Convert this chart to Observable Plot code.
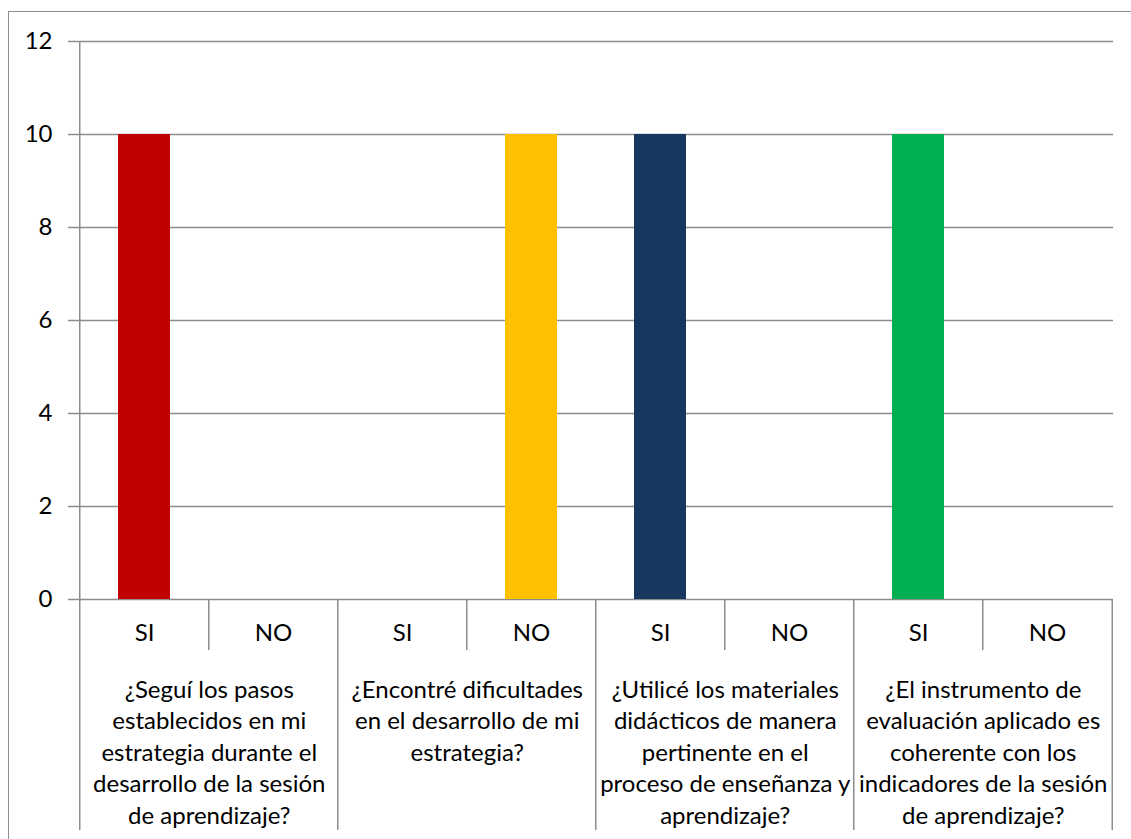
<!DOCTYPE html>
<html>
<head>
<meta charset="utf-8">
<script src="https://cdn.jsdelivr.net/npm/d3@7"></script>
<script src="https://cdn.jsdelivr.net/npm/@observablehq/plot@0.6"></script>
<style>
  html, body { margin: 0; padding: 0; background: #fff; overflow: hidden; }
  #wrap { position: relative; width: 1131px; height: 839px; overflow: hidden; }
  #border { position: absolute; left: 8px; top: 11px; width: 1140px; height: 850px; border: 1px solid #8c8c8c; box-sizing: border-box; pointer-events: none; }
  #chart { position: absolute; left: 0; top: 0; }
</style>
</head>
<body>
<div id="wrap"><div id="chart"></div><div id="border"></div></div>
<script>
// ---- data ----
const questions = [
  "¿Seguí los pasos\nestablecidos en mi\nestrategia durante el\ndesarrollo de la sesión\nde aprendizaje?",
  "¿Encontré dificultades\nen el desarrollo de mi\nestrategia?",
  "¿Utilicé los materiales\ndidácticos de manera\npertinente en el\nproceso de enseñanza y\naprendizaje?",
  "¿El instrumento de\nevaluación aplicado es\ncoherente con los\nindicadores de la sesión\nde aprendizaje?"
];
const answers = ["SI", "NO"];
const siValues = [10, 0, 10, 10];
const noValues = [0, 10, 0, 0];
const barColors = ["#C00000", "#FFC000", "#17375E", "#00B050"];
const yTicks = [0, 2, 4, 6, 8, 10, 12];

// ---- table built from arrays ----
const rows = [];
questions.forEach((q, qi) => {
  rows.push({key: qi + "-SI", q: qi, answer: "SI", value: siValues[qi]});
  rows.push({key: qi + "-NO", q: qi, answer: "NO", value: noValues[qi]});
});
const keys = rows.map(d => d.key);
const siKeys = questions.map((q, qi) => qi + "-SI");
const noKeys = questions.map((q, qi) => qi + "-NO");

// ---- layout ----
const W = 1131, H = 839;
const ML = 77, MR = 18, MT = 41, MB = 240;
const plotW = W - ML - MR, plotH = H - MT - MB;
const step = plotW / keys.length;
const gray = "#8c8c8c";
const font = "Lato, 'Open Sans', sans-serif";
const fs = 24;

const chart = Plot.plot({
  width: W, height: H,
  marginLeft: ML, marginRight: MR, marginTop: MT, marginBottom: MB,
  style: {fontFamily: font, background: "transparent", color: "#000"},
  x: {type: "band", domain: keys, paddingInner: 0.6, paddingOuter: 0.3, axis: null},
  y: {domain: [0, 12], axis: null},
  color: {domain: questions.map((q, i) => i), range: barColors},
  marks: [
    Plot.ruleY(yTicks, {y: d => d, stroke: gray, strokeWidth: 1.5, insetLeft: -9}),
    Plot.barY(rows, {x: "key", y: "value", fill: "q"}),
    Plot.axisY({ticks: yTicks, tickSize: 0, tickPadding: 25, fontSize: fs, fill: "#000", label: null}),
    // vertical axis line, continuing down as the first category divider
    Plot.ruleX([siKeys[0]], {x: d => d, dx: -step / 2, stroke: gray, strokeWidth: 1.5, insetBottom: -231}),
    // inner dividers (between SI and NO)
    Plot.ruleX(noKeys, {x: d => d, dx: -step / 2, stroke: gray, strokeWidth: 1.5, insetTop: plotH, insetBottom: -51}),
    // outer dividers (between questions)
    Plot.ruleX(siKeys.slice(1), {x: d => d, dx: -step / 2, stroke: gray, strokeWidth: 1.5, insetTop: plotH, insetBottom: -231}),
    Plot.ruleX([noKeys[noKeys.length - 1]], {x: d => d, dx: step / 2, stroke: gray, strokeWidth: 1.5, insetTop: plotH, insetBottom: -231}),
    // SI / NO labels
    Plot.text(rows, {x: "key", text: "answer", frameAnchor: "bottom", dy: 34, lineAnchor: "middle", fontSize: fs, fill: "#000"}),
    // question labels
    Plot.text(questions, {x: (q, i) => siKeys[i], text: d => d, dx: step / 2, frameAnchor: "bottom", dy: 76, lineAnchor: "top", lineHeight: 1.31, fontSize: fs, fill: "#000"})
  ]
});
document.getElementById("chart").appendChild(chart);
</script>
</body>
</html>
